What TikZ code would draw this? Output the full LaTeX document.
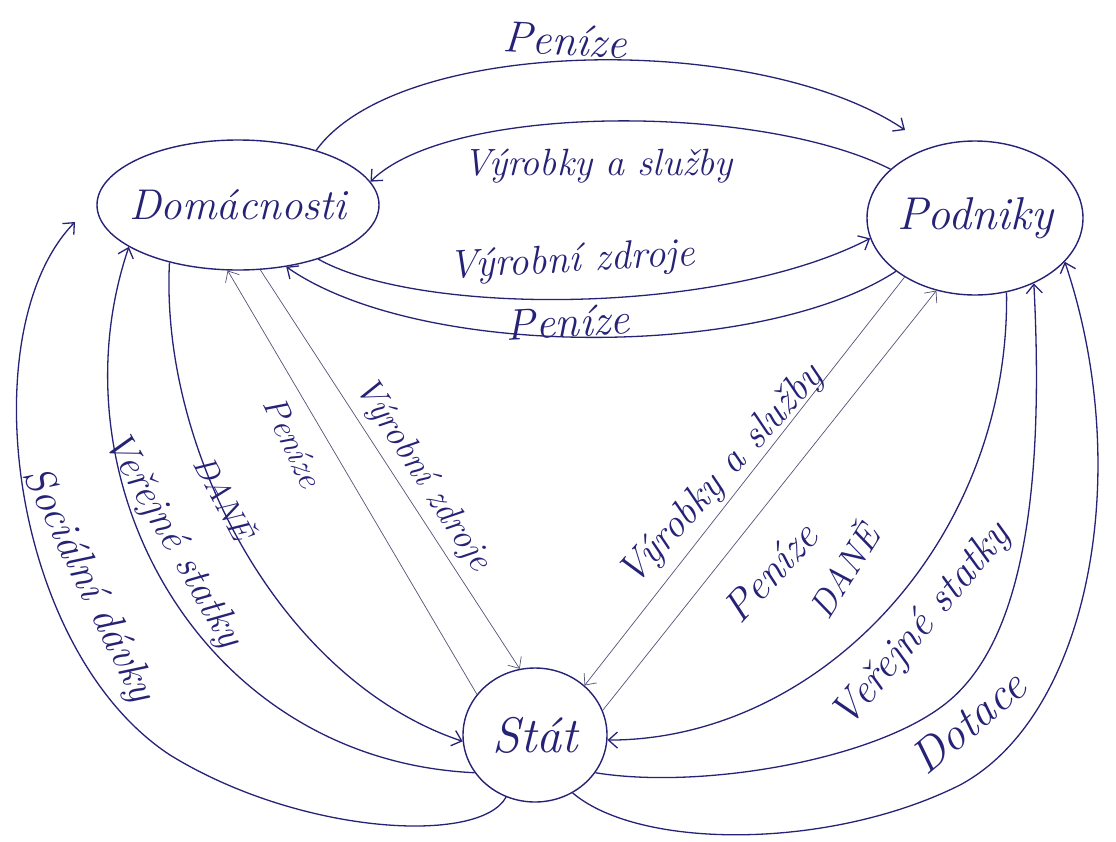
\documentclass[tikz,border=0pt]{standalone}
\usetikzlibrary{shapes.geometric,arrows.meta}
\definecolor{ink}{RGB}{38,34,118}
\definecolor{thinink}{RGB}{85,82,120}
\begin{document}
\begin{tikzpicture}[x=1pt,y=-1pt,
  every node/.style={text=ink},
  place/.style={ellipse, draw=ink, line width=1.4pt, inner sep=0pt},
  placetext/.style={font=\itshape\fontsize{#1}{#1}\selectfont, inner sep=0pt},
  flow/.style={draw=ink, line width=1.3pt, -{Straight Barb[length=9pt,width=16pt]}},
  thinflow/.style={draw=thinink, line width=0.7pt, -{Straight Barb[length=9pt,width=16pt]}},
  lbl/.style={font=\itshape\fontsize{#1}{#1}\selectfont, inner sep=1pt},
  lbl/.default=38,
]
\useasboundingbox (0,0) rectangle (1116,841);
\fill[white] (0,0) rectangle (1116,841);

% places
\node[place, minimum width=282pt, minimum height=130pt] (dom) at (238,205) {};
\node[placetext=43] (domt) at (dom.center) {Domácnosti};
\node[place, minimum width=216pt, minimum height=154pt] (pod) at (975,218) {};
\node[placetext=46] (podt) at (pod.center) {Podniky};
\node[place, minimum width=144pt, minimum height=134pt] (sta) at (535,735) {};
\node[placetext=50] (stat) at (sta.center) {Stát};

\coordinate (penEnd) at (905,130);
\coordinate (sdEnd) at (75,222);

% Domácnosti <-> Podniky
\draw[flow] (dom.35) .. controls (400,35) and (760,32) .. (penEnd);
\draw[flow] (pod.150) .. controls (760,103) and (450,103) .. (dom.10);
\draw[flow] (dom.-34) .. controls (420,316) and (720,316) .. (pod.-169);
\draw[flow] (pod.-146) .. controls (760,360) and (420,360) .. (dom.-52);

% Domácnosti <-> Stát
\draw[thinflow] (dom.-71) -- (sta.103);
\draw[thinflow] (sta.145) -- (dom.-99);
\draw[flow] (dom.-140) .. controls (160,450) and (280,680) .. (sta.185);
\draw[flow] (sta.212) .. controls (200,760) and (50,480) .. (dom.-159);
\draw[flow] (sta.245) .. controls (480,845) and (300,835) .. (170,755) .. controls (10,650) and (-30,330) .. (sdEnd);

% Podniky <-> Stát
\draw[thinflow] (pod.-140) -- (sta.45);
\draw[thinflow] (sta.20) -- (pod.-118);
\draw[flow] (pod.-67) .. controls (1010,540) and (820,740) .. (sta.-4);
\draw[flow] (sta.-32) .. controls (700,790) and (880,760) .. (950,700) .. controls (1020,640) and (1045,500) .. (pod.-48);
\draw[flow] (sta.-57) .. controls (640,850) and (830,850) .. (960,785) .. controls (1090,715) and (1135,470) .. (pod.-26);

% labels top
\node[lbl=44, rotate=-3] (l1) at (565,40) {Peníze};
\node[lbl=38] (l2) at (598,166) {Výrobky a služby};
\node[lbl=40, rotate=3] (l3) at (572,262) {Výrobní zdroje};
\node[lbl=44, rotate=3] (l4) at (568,322) {Peníze};

% labels left
\node[lbl=42, rotate=-64] (l5) at (88,585) {Sociální dávky};
\node[lbl=40, rotate=-60] (l6) at (172,540) {Veřejné statky};
\node[lbl=32, rotate=-62] (l7) at (226,497) {DANĚ};
\node[lbl=34, rotate=-65] (l8) at (293,442) {Peníze};
\node[lbl=36, rotate=-57] (l9) at (422,475) {Výrobní zdroje};

% labels right
\node[lbl=40, rotate=48] (l10) at (722,476) {Výrobky a služby};
\node[lbl=42, rotate=47] (l11) at (770,572) {Peníze};
\node[lbl=36, rotate=58] (l12) at (842,570) {DANĚ};
\node[lbl=42, rotate=50] (l13) at (922,626) {Veřejné statky};
\node[lbl=46, rotate=40] (l14) at (968,722) {Dotace};
\end{tikzpicture}
\end{document}
